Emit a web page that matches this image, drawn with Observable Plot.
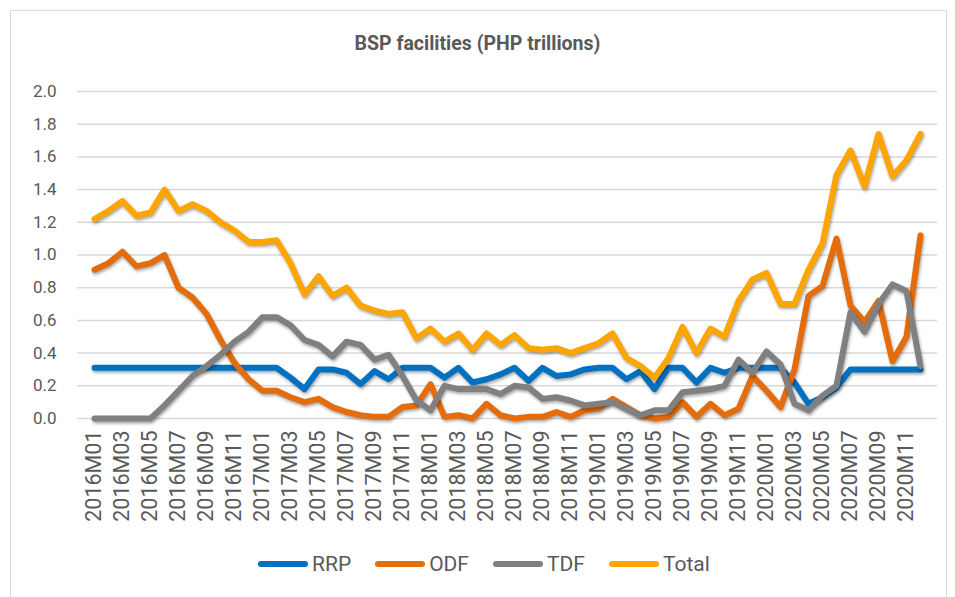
<!DOCTYPE html>
<html>
<head>
<meta charset="utf-8">
<script src="https://cdn.jsdelivr.net/npm/d3@7"></script>
<script src="https://cdn.jsdelivr.net/npm/@observablehq/plot@0.6"></script>
<style>
  html, body { margin: 0; padding: 0; background: #fff; width: 955px; height: 597px; overflow: hidden; }
  #frame { position: absolute; left: 10px; top: 10px; width: 937px; height: 600px; border: 1px solid #d9d9d9; box-sizing: border-box; }
  #title { position: absolute; left: 0; width: 955px; top: 32px; text-align: center; font: bold 19.5px Roboto, "Liberation Sans", sans-serif; color: #595959; }
  #chart { position: absolute; left: 0; top: 0; }
  #legend { position: absolute; left: 0; width: 955px; top: 552px; padding-left: 258px; box-sizing: border-box; display: flex; justify-content: flex-start; font: 21px Roboto, "Liberation Sans", sans-serif; color: #595959; }
  .item { display: flex; align-items: center; margin-right: 24px; }
  .sw { width: 50px; height: 6px; border-radius: 3px; margin-right: 4px; }
</style>
</head>
<body>
<div id="frame"></div>
<div id="chart"></div>
<div id="title">BSP facilities (PHP trillions)</div>
<div id="legend"></div>
<script>
// Categories: monthly 2016M01 .. 2020M12
const years = [2016, 2017, 2018, 2019, 2020];
const months = [];
for (const y of years) for (let m = 1; m <= 12; m++) months.push(`${y}M${String(m).padStart(2, "0")}`);

const seriesNames = ["RRP", "ODF", "TDF", "Total"];
const seriesColors = ["#0070C0", "#E46C0A", "#808080", "#FFA500"];

const rrp = [0.31,0.31,0.31,0.31,0.31,0.31,0.31,0.31,0.31,0.31,0.31,0.31,0.31,0.31,0.25,0.18,0.30,0.30,0.28,0.21,
             0.29,0.24,0.31,0.31,0.31,0.25,0.31,0.22,0.24,0.27,0.31,0.23,0.31,0.26,0.27,0.30,0.31,0.31,0.24,0.29,
             0.18,0.31,0.31,0.22,0.31,0.28,0.31,0.31,0.31,0.31,0.22,0.09,0.13,0.19,0.30,0.30,0.30,0.30,0.30,0.30];
const odf = [0.91,0.95,1.02,0.93,0.95,1.00,0.80,0.74,0.64,0.48,0.34,0.24,0.17,0.17,0.13,0.10,0.12,0.07,0.04,0.02,
             0.01,0.01,0.07,0.08,0.21,0.01,0.02,0.00,0.09,0.02,0.00,0.01,0.01,0.04,0.01,0.05,0.06,0.12,0.07,0.02,
             0.00,0.01,0.10,0.01,0.09,0.02,0.06,0.26,0.17,0.07,0.30,0.75,0.81,1.10,0.69,0.59,0.72,0.35,0.50,1.12];
const tdf = [0.00,0.00,0.00,0.00,0.00,0.08,0.17,0.26,0.32,0.39,0.47,0.53,0.62,0.62,0.57,0.48,0.45,0.38,0.47,0.45,
             0.36,0.39,0.26,0.11,0.05,0.20,0.18,0.18,0.18,0.15,0.20,0.19,0.12,0.13,0.11,0.08,0.09,0.10,0.06,0.02,
             0.05,0.05,0.16,0.17,0.18,0.20,0.36,0.28,0.41,0.33,0.09,0.05,0.14,0.20,0.65,0.53,0.70,0.82,0.78,0.32];
const total = [1.22,1.27,1.33,1.24,1.26,1.40,1.27,1.31,1.27,1.20,1.15,1.08,1.08,1.09,0.95,0.76,0.87,0.75,0.80,0.69,
               0.66,0.64,0.65,0.49,0.55,0.47,0.52,0.42,0.52,0.45,0.51,0.43,0.42,0.43,0.40,0.43,0.46,0.52,0.37,0.32,
               0.25,0.37,0.56,0.40,0.55,0.50,0.72,0.85,0.89,0.70,0.70,0.91,1.07,1.49,1.64,1.42,1.74,1.48,1.58,1.74];

const yTicks = [0, 0.2, 0.4, 0.6, 0.8, 1.0, 1.2, 1.4, 1.6, 1.8, 2.0];
const xTicks = months.filter((d, i) => i % 2 === 0);

const valueArrays = [rrp, odf, tdf, total];
const rows = [];
seriesNames.forEach((s, k) => valueArrays[k].forEach((v, i) => rows.push({series: s, month: months[i], value: v})));

const chart = Plot.plot({
  width: 955,
  height: 545,
  marginTop: 91,
  marginBottom: 127,
  marginLeft: 77,
  marginRight: 18,
  style: {fontFamily: "Roboto, 'Liberation Sans', sans-serif", color: "#595959", background: "transparent"},
  x: {type: "point", domain: months, padding: 0.5, label: null},
  y: {domain: [0, 2], label: null},
  color: {domain: seriesNames, range: seriesColors},
  marks: [
    Plot.gridY(yTicks, {stroke: "#d9d9d9", strokeWidth: 1.5, strokeOpacity: 1}),
    Plot.axisY(yTicks, {tickSize: 0, tickPadding: 21, tickFormat: d => d.toFixed(1), fontSize: 17, fill: "#595959", label: null}),
    Plot.axisX(xTicks, {tickSize: 0, tickPadding: 12, tickRotate: -90, fontSize: 21.5, fill: "#595959", label: null}),
    Plot.line(rows, {x: "month", y: "value", z: "series", stroke: "series", strokeWidth: 6, strokeLinejoin: "round", strokeLinecap: "round"})
  ]
});
document.getElementById("chart").appendChild(chart);
d3.select(chart).selectAll('g[aria-label="line"] path').style("filter", "drop-shadow(1px 2px 1.5px rgba(0,0,0,0.35))");

const legend = document.getElementById("legend");
seriesNames.forEach((s, k) => {
  const it = document.createElement("div");
  it.className = "item";
  it.innerHTML = `<div class="sw" style="background:${seriesColors[k]}"></div><span>${s}</span>`;
  legend.appendChild(it);
});
</script>
</body>
</html>
